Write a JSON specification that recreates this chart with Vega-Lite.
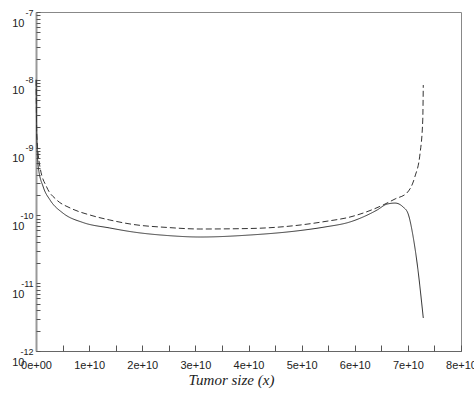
{
  "$schema": "https://vega.github.io/schema/vega-lite/v6.json",
  "width": 425,
  "height": 339,
  "autosize": "none",
  "padding": {"left": 36, "top": 12, "right": 13, "bottom": 51},
  "background": "white",
  "config": {
    "view": {"stroke": "#888888", "strokeWidth": 1},
    "axis": {"grid": false, "labelFont": "Liberation Sans", "labelColor": "#222222", "titleColor": "#222222", "labelOverlap": false, "labelBound": false, "labelFlush": false, "zindex": 1}
  },
  "data": {
    "values": [
      {"x": 3.8e7, "y": 1.0e-8, "series": "solid"},
      {"x": 1.3e8, "y": 1.64e-9, "series": "solid"},
      {"x": 4.3e8, "y": 5.18e-10, "series": "solid"},
      {"x": 1.37e9, "y": 2.62e-10, "series": "solid"},
      {"x": 2.64e9, "y": 1.69e-10, "series": "solid"},
      {"x": 5.08e9, "y": 1.08e-10, "series": "solid"},
      {"x": 8.85e9, "y": 7.85e-11, "series": "solid"},
      {"x": 1.39e10, "y": 6.52e-11, "series": "solid"},
      {"x": 1.83e10, "y": 5.69e-11, "series": "solid"},
      {"x": 2.47e10, "y": 5.05e-11, "series": "solid"},
      {"x": 3.09e10, "y": 4.8e-11, "series": "solid"},
      {"x": 4.03e10, "y": 5.14e-11, "series": "solid"},
      {"x": 4.97e10, "y": 5.98e-11, "series": "solid"},
      {"x": 5.44e10, "y": 6.75e-11, "series": "solid"},
      {"x": 5.91e10, "y": 8.0e-11, "series": "solid"},
      {"x": 6.42e10, "y": 1.2e-10, "series": "solid"},
      {"x": 6.61e10, "y": 1.47e-10, "series": "solid"},
      {"x": 6.76e10, "y": 1.52e-10, "series": "solid"},
      {"x": 6.91e10, "y": 1.33e-10, "series": "solid"},
      {"x": 7.0e10, "y": 1.08e-10, "series": "solid"},
      {"x": 7.1e10, "y": 4.8e-11, "series": "solid"},
      {"x": 7.19e10, "y": 1.57e-11, "series": "solid"},
      {"x": 7.26e10, "y": 5.11e-12, "series": "solid"},
      {"x": 7.29e10, "y": 3.07e-12, "series": "solid"},
      {"x": 3.8e7, "y": 1.0e-8, "series": "dashed"},
      {"x": 1.3e8, "y": 1.64e-9, "series": "dashed"},
      {"x": 7.5e8, "y": 5.18e-10, "series": "dashed"},
      {"x": 2.01e9, "y": 2.62e-10, "series": "dashed"},
      {"x": 3.9e9, "y": 1.69e-10, "series": "dashed"},
      {"x": 6.4e9, "y": 1.29e-10, "series": "dashed"},
      {"x": 1.02e10, "y": 1.01e-10, "series": "dashed"},
      {"x": 1.39e10, "y": 8.55e-11, "series": "dashed"},
      {"x": 1.83e10, "y": 7.35e-11, "series": "dashed"},
      {"x": 2.47e10, "y": 6.64e-11, "series": "dashed"},
      {"x": 3.09e10, "y": 6.3e-11, "series": "dashed"},
      {"x": 4.03e10, "y": 6.41e-11, "series": "dashed"},
      {"x": 4.97e10, "y": 7.21e-11, "series": "dashed"},
      {"x": 5.44e10, "y": 8.13e-11, "series": "dashed"},
      {"x": 5.91e10, "y": 9.46e-11, "series": "dashed"},
      {"x": 6.53e10, "y": 1.42e-10, "series": "dashed"},
      {"x": 6.76e10, "y": 1.75e-10, "series": "dashed"},
      {"x": 6.98e10, "y": 2.14e-10, "series": "dashed"},
      {"x": 7.13e10, "y": 3.68e-10, "series": "dashed"},
      {"x": 7.23e10, "y": 8.32e-10, "series": "dashed"},
      {"x": 7.28e10, "y": 2.55e-9, "series": "dashed"},
      {"x": 7.29e10, "y": 8.37e-9, "series": "dashed"}
    ]
  },
  "layer": [
    {
      "mark": {"type": "line", "color": "#333333", "strokeWidth": 1, "interpolate": "monotone"},
      "encoding": {
        "x": {
          "field": "x", "type": "quantitative",
          "scale": {"domain": [0, 80000000000], "nice": false, "zero": false},
          "axis": {
            "values": [0, 10000000000, 20000000000, 30000000000, 40000000000, 50000000000, 60000000000, 70000000000, 80000000000],
            "labelExpr": "datum.value == 0 ? '0e+00' : format(datum.value, '.0e')",
            "labelFontSize": 11,
            "labelPadding": 8,
            "ticks": false,
            "domainColor": "#666666",
            "title": "Tumor size (x)",
            "titleFont": "Liberation Serif",
            "titleFontStyle": "italic",
            "titleFontWeight": "normal",
            "titleFontSize": 15,
            "titleX": 195,
            "titleY": 33,
            "titleAlign": "center",
            "titleAnchor": null,
            "titleBaseline": "alphabetic"
          }
        },
        "y": {
          "field": "y", "type": "quantitative",
          "scale": {"type": "log", "domain": [1e-12, 1e-7], "nice": false},
          "axis": {
            "values": [1e-12, 1e-11, 1e-10, 1e-9, 1e-8, 1e-7],
            "labelExpr": "'10'",
            "labelFontSize": 11,
            "labelPadding": 12,
            "labelOffset": 11,
            "ticks": false,
            "domainColor": "#999999",
            "domainWidth": 2,
            "title": null
          }
        },
        "strokeDash": {
          "field": "series", "type": "nominal",
          "scale": {"domain": ["solid", "dashed"], "range": [[1, 0], [6, 3]]},
          "legend": null
        }
      }
    },
    {
      "mark": {"type": "line", "opacity": 0},
      "encoding": {
        "x": {"field": "x", "type": "quantitative", "scale": {"domain": [0, 80000000000], "nice": false, "zero": false}, "axis": null},
        "y": {
          "field": "y", "type": "quantitative",
          "scale": {"type": "log", "domain": [1e-12, 1e-7], "nice": false},
          "axis": {
            "orient": "left",
            "values": [1e-12, 1e-11, 1e-10, 1e-9, 1e-8, 1e-7],
            "labelExpr": "'' + round(log(datum.value)/LN10)",
            "labelFontSize": 9,
            "labelPadding": 3,
            "ticks": false,
            "domain": false,
            "title": null
          }
        },
        "detail": {"field": "series", "type": "nominal"}
      }
    },
    {
      "mark": {"type": "line", "opacity": 0},
      "encoding": {
        "x": {
          "field": "x", "type": "quantitative",
          "scale": {"domain": [0, 80000000000], "nice": false, "zero": false},
          "axis": {
            "orient": "bottom",
            "offset": -6,
            "values": [0, 5000000000, 10000000000, 15000000000, 20000000000, 25000000000, 30000000000, 35000000000, 40000000000, 45000000000, 50000000000, 55000000000, 60000000000, 65000000000, 70000000000, 75000000000, 80000000000],
            "labels": false,
            "domain": false,
            "tickSize": 6,
            "tickColor": "#555555",
            "title": null
          }
        },
        "y": {
          "field": "y", "type": "quantitative",
          "scale": {"type": "log", "domain": [1e-12, 1e-7], "nice": false},
          "axis": {
            "orient": "left",
            "offset": -4,
            "values": [1e-12, 2e-12, 3e-12, 4e-12, 5e-12, 6e-12, 7e-12, 8e-12, 9e-12, 1e-11, 2e-11, 3e-11, 4e-11, 5e-11, 6e-11, 7e-11, 8e-11, 9e-11, 1e-10, 2e-10, 3e-10, 4e-10, 5e-10, 6e-10, 7e-10, 8e-10, 9e-10, 1e-9, 2e-9, 3e-9, 4e-9, 5e-9, 6e-9, 7e-9, 8e-9, 9e-9, 1e-8, 2e-8, 3e-8, 4e-8, 5e-8, 6e-8, 7e-8, 8e-8, 9e-8, 1e-7],
            "labels": false,
            "domain": false,
            "tickSize": 4,
            "tickColor": "#555555",
            "title": null
          }
        },
        "detail": {"field": "series", "type": "nominal"}
      }
    }
  ],
  "resolve": {"scale": {"x": "independent", "y": "independent"}, "axis": {"x": "independent", "y": "independent"}}
}
